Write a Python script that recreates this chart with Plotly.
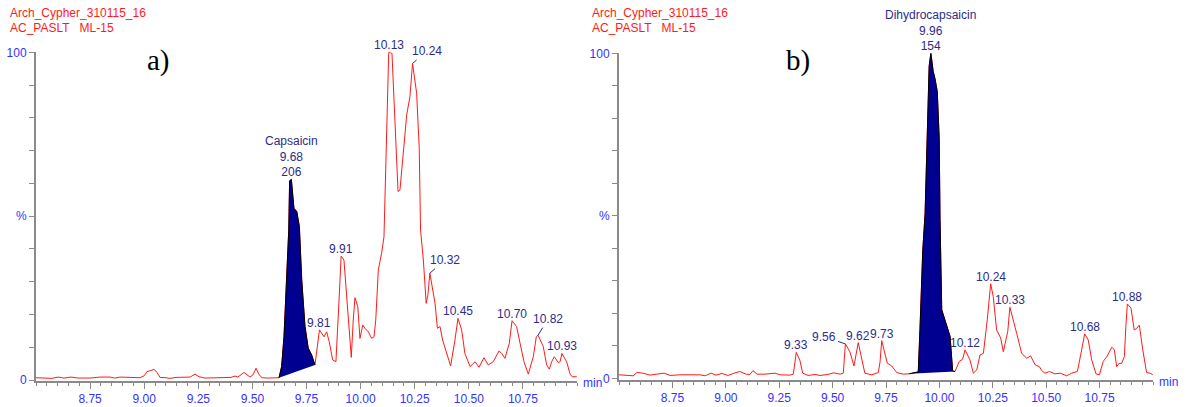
import numpy as np
import plotly.graph_objects as go

W, H = 1186, 407

# ---- trace a) : retention time (min) and relative response (%) ----
time_a = [8.500, 8.542, 8.574, 8.602, 8.629, 8.662, 8.694, 8.750, 8.796, 8.842,
          8.865, 8.888, 8.925, 8.953, 8.981, 9.000, 9.013, 9.032, 9.045, 9.059,
          9.073, 9.101, 9.119, 9.147, 9.189, 9.212, 9.235, 9.253, 9.281, 9.327,
          9.373, 9.401, 9.420, 9.433, 9.461, 9.475, 9.489, 9.503, 9.517, 9.531,
          9.545, 9.572, 9.600, 9.623, 9.635, 9.646, 9.655, 9.668, 9.672, 9.680,
          9.692, 9.705, 9.717, 9.728, 9.743, 9.758, 9.774, 9.789, 9.810, 9.820,
          9.831, 9.843, 9.855, 9.871, 9.886, 9.902, 9.910, 9.923, 9.936, 9.948,
          9.957, 9.966, 9.974, 9.987, 9.997, 10.010, 10.020, 10.036, 10.051, 10.062,
          10.070, 10.082, 10.097, 10.108, 10.123, 10.130, 10.145, 10.154, 10.164, 10.173,
          10.182, 10.201, 10.213, 10.228, 10.240, 10.259, 10.271, 10.277, 10.290, 10.303,
          10.311, 10.320, 10.344, 10.355, 10.367, 10.379, 10.398, 10.416, 10.436, 10.450,
          10.467, 10.482, 10.506, 10.529, 10.547, 10.570, 10.590, 10.613, 10.640, 10.652,
          10.667, 10.687, 10.700, 10.721, 10.737, 10.755, 10.775, 10.798, 10.812, 10.820,
          10.844, 10.860, 10.872, 10.883, 10.895, 10.914, 10.922, 10.930, 10.952, 10.968,
          10.978, 10.999]
resp_a = [0.7, 0.6, 0.5, 0.9, 0.6, 0.9, 0.6, 0.6, 0.9, 0.9,
          0.6, 0.9, 0.8, 0.6, 0.7, 1.3, 2.6, 2.9, 3.3, 2.3,
          0.8, 0.7, 0.5, 0.8, 0.8, 0.9, 1.8, 1.0, 0.6, 0.6,
          0.6, 0.8, 1.2, 0.9, 2.3, 1.6, 0.9, 1.6, 3.6, 1.6,
          0.7, 0.6, 0.7, 0.7, 4.1, 13.2, 26.5, 45.8, 60.8, 61.2,
          52.4, 51.4, 46.8, 30.5, 16.3, 9.7, 7.6, 4.6, 15.3, 14.2,
          13.2, 14.7, 11.7, 6.1, 5.6, 26.5, 37.8, 36.6, 24.4, 12.2,
          6.9, 18.3, 25.1, 22.4, 12.7, 16.8, 15.8, 14.7, 12.7, 13.2,
          18.3, 33.6, 38.7, 43.7, 88.5, 100.0, 99.7, 86.5, 72.0, 57.5,
          58.0, 72.2, 80.9, 86.5, 96.6, 87.5, 70.7, 45.8, 36.6, 23.4,
          26.0, 32.6, 23.4, 15.8, 16.3, 12.2, 8.1, 4.3, 12.2, 18.8,
          15.3, 8.1, 4.1, 5.6, 3.9, 6.8, 4.6, 5.6, 8.9, 8.1,
          6.6, 11.2, 18.1, 16.3, 11.2, 5.6, 1.8, 7.1, 13.2, 13.7,
          10.2, 4.6, 3.3, 5.6, 7.1, 5.3, 5.6, 8.1, 5.6, 1.8,
          1.0, 1.0]

# ---- trace b) ----
time_b = [8.500, 8.542, 8.566, 8.584, 8.612, 8.645, 8.678, 8.711, 8.739, 8.786,
          8.879, 8.903, 8.931, 8.954, 8.982, 9.010, 9.043, 9.066, 9.095, 9.113,
          9.127, 9.146, 9.184, 9.230, 9.254, 9.300, 9.316, 9.330, 9.347, 9.360,
          9.385, 9.418, 9.441, 9.478, 9.506, 9.535, 9.550, 9.560, 9.581, 9.600,
          9.620, 9.636, 9.651, 9.683, 9.714, 9.722, 9.730, 9.756, 9.777, 9.800,
          9.830, 9.859, 9.881, 9.901, 9.909, 9.922, 9.933, 9.943, 9.952, 9.960,
          9.971, 9.979, 9.990, 9.999, 10.003, 10.011, 10.034, 10.050, 10.062, 10.073,
          10.093, 10.109, 10.120, 10.143, 10.159, 10.175, 10.190, 10.206, 10.224, 10.240,
          10.252, 10.268, 10.287, 10.299, 10.320, 10.330, 10.362, 10.385, 10.409, 10.427,
          10.448, 10.468, 10.479, 10.494, 10.515, 10.541, 10.565, 10.596, 10.619, 10.646,
          10.666, 10.680, 10.697, 10.713, 10.733, 10.749, 10.767, 10.786, 10.807, 10.819,
          10.830, 10.841, 10.853, 10.866, 10.873, 10.880, 10.897, 10.912, 10.924, 10.936,
          10.952, 10.970, 10.986, 10.999]
resp_b = [1.1, 1.0, 0.8, 1.8, 1.6, 1.0, 1.2, 1.6, 0.9, 1.1,
          1.1, 0.8, 1.6, 1.0, 1.5, 0.9, 1.7, 2.1, 1.3, 1.2,
          2.4, 1.3, 1.3, 1.6, 1.1, 1.0, 1.3, 8.0, 5.5, 1.6,
          0.9, 1.2, 0.9, 1.2, 1.7, 1.3, 1.6, 10.6, 8.2, 3.8,
          11.0, 5.7, 1.6, 1.1, 1.8, 5.0, 11.6, 4.7, 3.8, 1.8,
          1.3, 1.4, 1.6, 2.0, 15.0, 39.2, 50.8, 75.5, 96.0, 100.0,
          94.4, 92.3, 88.3, 73.9, 48.8, 21.1, 15.9, 12.9, 2.3, 2.1,
          5.2, 5.9, 8.8, 5.7, 1.6, 2.6, 7.2, 7.7, 18.0, 29.1,
          25.2, 14.9, 12.4, 8.2, 14.4, 21.9, 13.8, 7.7, 6.2, 6.9,
          4.2, 3.6, 2.4, 1.6, 2.1, 1.4, 1.6, 0.8, 1.6, 2.1,
          8.8, 13.7, 11.8, 5.7, 1.4, 1.1, 5.2, 6.9, 9.6, 8.8,
          3.6, 4.6, 4.6, 6.7, 16.0, 22.9, 21.6, 14.9, 15.4, 16.4,
          8.8, 1.8, 1.6, 1.1]

# integration windows (start, end) of the shaded peaks, min
area_a = (9.623, 9.789)
area_b = (9.859, 10.073)

# peak annotations: text and apex retention time
labels_a = [("Capsaicin<br>9.68<br>206", 9.68), ("9.81", 9.81), ("9.91", 9.91),
            ("10.13", 10.13), ("10.24", 10.24), ("10.32", 10.32), ("10.45", 10.45),
            ("10.70", 10.70), ("10.82", 10.82), ("10.93", 10.93)]
labels_b = [("Dihydrocapsaicin<br>9.96<br>154", 9.96), ("9.33", 9.33), ("9.56", 9.56),
            ("9.62", 9.62), ("9.73", 9.73), ("10.12", 10.12), ("10.24", 10.24),
            ("10.33", 10.33), ("10.68", 10.68), ("10.88", 10.88)]

# labels drawn off to the side with a leader line (pixel offsets)
leaders_a = {"10.24": (14, -12), "10.32": (15, -13), "10.82": (10, -16)}
leaders_b = {"9.56": (-21, -7)}

x_ticks = [8.75, 9.00, 9.25, 9.50, 9.75, 10.00, 10.25, 10.50, 10.75]
y_ticks = list(range(0, 101, 10))
y_ticktext = ["0" if v == 0 else "%" if v == 50 else "100" if v == 100 else "" for v in y_ticks]

RED = "#ff1a1a"
NAVY = "#2b2b8c"
BLUE = "#3333ff"
GREY = "#8a8a8a"
FILL = "#000090"
SANS = "Liberation Sans, Arial, sans-serif"
SERIF = "Liberation Serif, Times New Roman, serif"

fig = go.Figure()


def add_panel(t, r, window, xa, ya):
    fig.add_trace(go.Scatter(x=t, y=r, mode="lines", line=dict(color=RED, width=1),
                             xaxis=xa, yaxis=ya, hoverinfo="skip", showlegend=False))
    seg = [(ti, ri) for ti, ri in zip(t, r) if window[0] <= ti <= window[1]]
    fig.add_trace(go.Scatter(x=[s[0] for s in seg], y=[s[1] for s in seg], mode="lines",
                             fill="toself", fillcolor=FILL, line=dict(color="black", width=1),
                             xaxis=xa, yaxis=ya, hoverinfo="skip", showlegend=False))


add_panel(time_a, resp_a, area_a, "x", "y")
add_panel(time_b, resp_b, area_b, "x2", "y2")

annotations = []


def add_labels(t, r, labels, leaders, xref, yref):
    for text, apex in labels:
        v = r[t.index(apex)]
        if text in leaders:
            ax, ay = leaders[text]
            annotations.append(dict(x=apex, y=v, xref=xref, yref=yref, text=text,
                                    showarrow=True, arrowhead=0, arrowwidth=1, arrowcolor=NAVY,
                                    ax=ax, ay=ay, standoff=0,
                                    font=dict(family=SANS, size=12, color=NAVY)))
        else:
            annotations.append(dict(x=apex, y=v, xref=xref, yref=yref, text=text,
                                    showarrow=False, xanchor="center", yanchor="bottom",
                                    yshift=-2, font=dict(family=SANS, size=12, color=NAVY)))


add_labels(time_a, resp_a, labels_a, leaders_a, "x", "y")
add_labels(time_b, resp_b, labels_b, leaders_b, "x2", "y2")

# header, panel tags and axis unit
for x0, tag, tag_x in [(8, "a)", 158), (590, "b)", 798)]:
    annotations.append(dict(x=x0 / W, y=1 - 13 / H, xref="paper", yref="paper",
                            text="Arch_Cypher_310115_16", showarrow=False,
                            xanchor="left", yanchor="middle",
                            font=dict(family=SANS, size=12, color=RED)))
    annotations.append(dict(x=x0 / W, y=1 - 28 / H, xref="paper", yref="paper",
                            text="AC_PASLT\u00a0\u00a0\u00a0ML-15", showarrow=False,
                            xanchor="left", yanchor="middle",
                            font=dict(family=SANS, size=12, color=RED)))
    annotations.append(dict(x=tag_x / W, y=1 - 60 / H, xref="paper", yref="paper",
                            text=tag, showarrow=False, xanchor="center", yanchor="middle",
                            font=dict(family=SERIF, size=29, color="black")))

for mx, my in [(581, 383), (1157, 382)]:
    annotations.append(dict(x=mx / W, y=1 - my / H, xref="paper", yref="paper",
                            text="min", showarrow=False, xanchor="left", yanchor="middle",
                            font=dict(family=SANS, size=12, color=BLUE)))

minor_vals = [round(v, 2) for v in np.arange(8.5, 11.001, 0.05)]


def xaxis_cfg(left_px, right_px):
    return dict(domain=[left_px / W, right_px / W], range=[8.5, 11.0],
                tickmode="array", tickvals=x_ticks, ticktext=[f"{v:.2f}" for v in x_ticks],
                ticks="outside", ticklen=6, tickwidth=1, tickcolor=GREY,
                minor=dict(tickmode="array", tickvals=minor_vals, ticks="outside",
                           ticklen=3, tickwidth=1, tickcolor=GREY),
                showline=True, linecolor=GREY, linewidth=2, showgrid=False, zeroline=False,
                tickfont=dict(family=SANS, size=12, color=BLUE), automargin=False,
                fixedrange=True)


def yaxis_cfg(bottom_px, top_px, lo, anchor):
    return dict(domain=[1 - bottom_px / H, 1 - top_px / H], range=[lo, 100], anchor=anchor,
                tickmode="array", tickvals=y_ticks, ticktext=y_ticktext,
                ticks="outside", ticklen=5, tickwidth=1, tickcolor=GREY,
                showline=True, linecolor=GREY, linewidth=2, showgrid=False, zeroline=False,
                tickfont=dict(family=SANS, size=12, color=BLUE), automargin=False,
                fixedrange=True)


fig.update_layout(
    width=W, height=H,
    margin=dict(l=0, r=0, t=0, b=0),
    paper_bgcolor="white", plot_bgcolor="white",
    showlegend=False,
    xaxis=dict(**xaxis_cfg(36, 577), anchor="y"),
    yaxis=yaxis_cfg(381, 52.3, -0.3, "x"),
    xaxis2=dict(**xaxis_cfg(619, 1153), anchor="y2"),
    yaxis2=yaxis_cfg(380, 53.3, -0.5, "x2"),
    annotations=annotations,
)

fig.write_html("out.html")
